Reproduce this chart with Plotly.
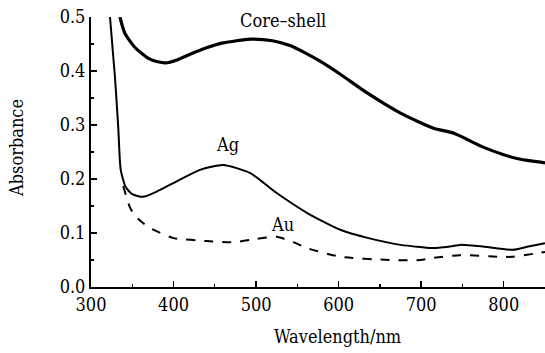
import plotly.graph_objects as go

# Data
core_x = [335, 341, 353, 369, 381, 390, 405, 420, 440, 460, 493, 520, 541, 560, 581,
          602, 635, 675, 715, 739, 775, 800, 816, 835, 850]
core_y = [0.500, 0.470, 0.444, 0.424, 0.417, 0.415, 0.421, 0.431, 0.443, 0.452, 0.459,
          0.456, 0.447, 0.433, 0.415, 0.394, 0.359, 0.322, 0.294, 0.285, 0.259, 0.245,
          0.238, 0.233, 0.230]

ag_x = [323, 329, 333, 336, 342, 350, 363, 380, 399, 432, 460, 493, 525, 562, 602,
        635, 675, 699, 715, 739, 747, 775, 811, 830, 850]
ag_y = [0.500, 0.389, 0.296, 0.217, 0.185, 0.172, 0.167, 0.177, 0.192, 0.217, 0.226,
        0.211, 0.174, 0.137, 0.106, 0.091, 0.078, 0.074, 0.072, 0.076, 0.078, 0.075,
        0.069, 0.075, 0.081]

au_x = [339, 347, 351, 360, 372, 399, 440, 472, 501, 525, 545, 562, 602, 662, 699,
        715, 747, 796, 811, 850]
au_y = [0.187, 0.148, 0.137, 0.122, 0.109, 0.091, 0.085, 0.083, 0.089, 0.093, 0.083,
        0.072, 0.056, 0.050, 0.050, 0.054, 0.059, 0.056, 0.056, 0.065]

x_ticks = [300, 400, 500, 600, 700, 800]
y_ticks = [0.0, 0.1, 0.2, 0.3, 0.4, 0.5]
y_tick_labels = ["0.0", "0.1", "0.2", "0.3", "0.4", "0.5"]

FONT = "DejaVu Serif Condensed"

fig = go.Figure()
fig.add_trace(go.Scatter(x=core_x, y=core_y, mode="lines", name="Core–shell",
                         line=dict(color="black", width=3.2, shape="spline", smoothing=0.6)))
fig.add_trace(go.Scatter(x=ag_x, y=ag_y, mode="lines", name="Ag",
                         line=dict(color="black", width=2, shape="spline", smoothing=0.6)))
fig.add_trace(go.Scatter(x=au_x, y=au_y, mode="lines", name="Au",
                         line=dict(color="black", width=2, dash="dash", shape="spline", smoothing=0.6)))

axis_common = dict(showgrid=False, zeroline=False, showline=True, linecolor="black",
                   linewidth=2, ticks="inside", tickcolor="black", tickwidth=1.5,
                   ticklen=6, automargin=False, ticklabeloverflow="allow",
                   tickfont=dict(family=FONT, size=18, color="black"))

fig.update_xaxes(range=[300, 850], tickvals=x_ticks, ticktext=[str(v) for v in x_ticks],
                 minor=dict(ticks="inside", ticklen=3, dtick=50, tick0=300,
                            tickcolor="black", tickwidth=1.2),
                 **axis_common)
fig.update_yaxes(range=[0, 0.5], tickvals=y_ticks, ticktext=y_tick_labels,
                 minor=dict(ticks="inside", ticklen=3, dtick=0.05, tick0=0,
                            tickcolor="black", tickwidth=1.2),
                 **axis_common)

ann_font = dict(family=FONT, size=18, color="black")
fig.update_layout(
    template="none",
    width=545, height=353,
    margin=dict(l=91, r=0, t=17, b=66, autoexpand=False),
    plot_bgcolor="white", paper_bgcolor="white",
    font=dict(family=FONT, color="black"),
    showlegend=False,
    annotations=[
        dict(x=533, y=0.494, text="Core–shell", showarrow=False, font=ann_font),
        dict(x=465, y=0.263, text="Ag", showarrow=False, font=ann_font),
        dict(x=531.5, y=0.115, text="Au", showarrow=False, font=ann_font),
        dict(xref="paper", yref="paper", x=0.544, y=-0.185, text="Wavelength/nm",
             xanchor="center", yanchor="middle", showarrow=False, font=ann_font),
        dict(xref="paper", yref="paper", x=-0.163, y=0.515, text="Absorbance",
             xanchor="center", yanchor="middle", textangle=-90, showarrow=False,
             font=ann_font),
    ],
)

fig.write_html("out.html", config={"displayModeBar": False, "staticPlot": True},
               post_script="document.body.style.margin='0';document.body.style.padding='0';")
